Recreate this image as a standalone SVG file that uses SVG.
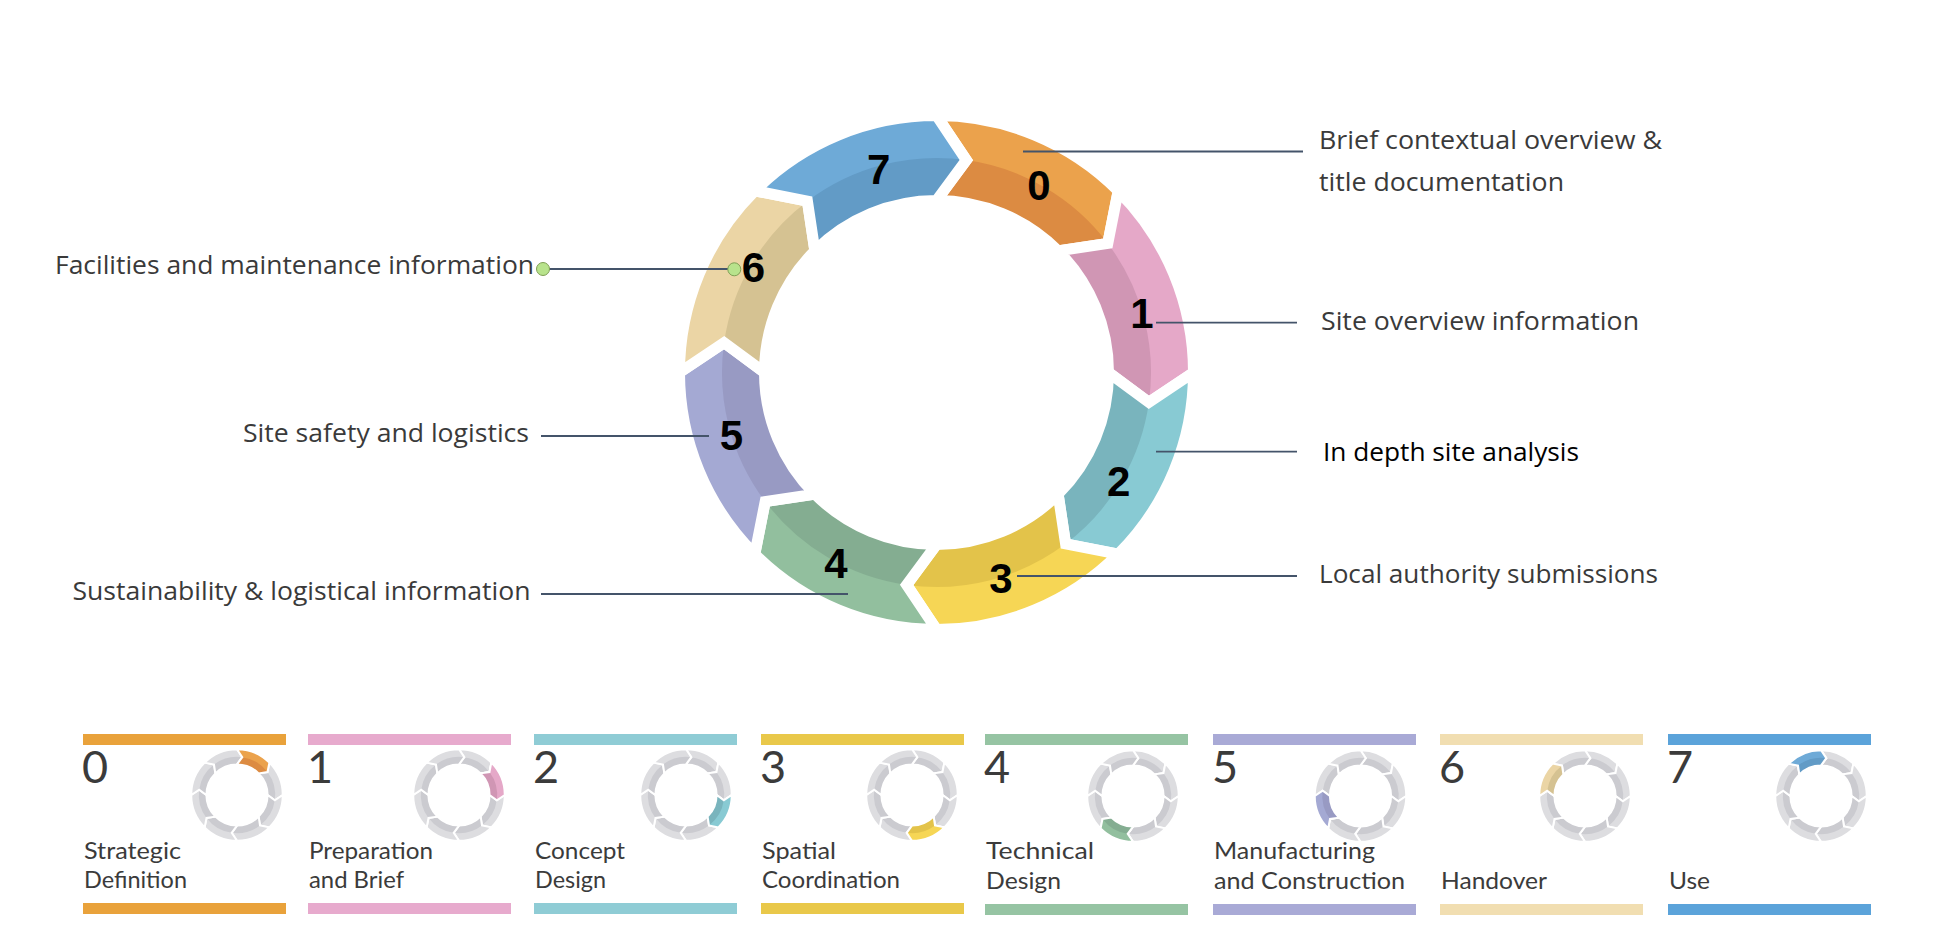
<svg xmlns="http://www.w3.org/2000/svg" xmlns:xlink="http://www.w3.org/1999/xlink" width="1944" height="948" viewBox="0 0 1944 948">
<style>
.gap{fill:none;stroke:#fff;stroke-width:11;stroke-linejoin:miter}
.num{font-family:"Liberation Sans",Arial,sans-serif;font-weight:bold;font-size:42px;fill:#000;text-anchor:middle}
.lbl{font-family:"Open Sans","Noto Sans",sans-serif;font-size:25px;fill:#3a3a3a}
.lead{stroke:#44546A;stroke-width:1.8;fill:none}
.dot{fill:#B8E38C;stroke:#7F9F55;stroke-width:1}
.pnum{font-family:Lato,"Noto Sans",sans-serif;font-size:45px;fill:#3b3b3b}
.ptxt{font-family:Lato,"Noto Sans",sans-serif;font-size:23px;fill:#3b3b3b}
</style>
<defs>
<path id="sf" d="M0,-257 L29.85,-212.41 L0,-172 A172,172 0 0 1 121.62,-121.62 L171.31,-129.09 L181.73,-181.73 A257,257 0 0 0 0,-257 Z"/>
<path id="sb" d="M0,-172 A172,172 0 0 1 121.62,-121.62 L171.31,-129.09 A214.5,214.5 0 0 0 29.85,-212.41 Z"/>
<g id="graySeg">
<use href="#sf" fill="#DDDDE0"/>
<use href="#sb" fill="#CBCBD0"/>
<use href="#sf" class="gap"/>
</g>
<g id="ico">
<use href="#graySeg"/>
<use href="#graySeg" transform="rotate(45)"/>
<use href="#graySeg" transform="rotate(90)"/>
<use href="#graySeg" transform="rotate(135)"/>
<use href="#graySeg" transform="rotate(180)"/>
<use href="#graySeg" transform="rotate(225)"/>
<use href="#graySeg" transform="rotate(270)"/>
<use href="#graySeg" transform="rotate(315)"/>
</g>
</defs>
<rect width="1944" height="948" fill="#fff"/>

<!-- main ring -->
<g id="stage-0">
<g transform="translate(936.5,372.5) rotate(0)"><use href="#sf" fill="#EBA24C"/><use href="#sb" fill="#DC8B42"/><use href="#sf" class="gap"/></g>
<text class="num" x="1039" y="199.6">0</text>
</g>
<g id="stage-1">
<g transform="translate(936.5,372.5) rotate(45)"><use href="#sf" fill="#E5A8C8"/><use href="#sb" fill="#D096B4"/><use href="#sf" class="gap"/></g>
<text class="num" x="1142" y="328">1</text>
</g>
<g id="stage-2">
<g transform="translate(936.5,372.5) rotate(90)"><use href="#sf" fill="#88CAD3"/><use href="#sb" fill="#79B4BD"/><use href="#sf" class="gap"/></g>
<text class="num" x="1118.6" y="496">2</text>
</g>
<g id="stage-3">
<g transform="translate(936.5,372.5) rotate(135)"><use href="#sf" fill="#F6D655"/><use href="#sb" fill="#E3C34A"/><use href="#sf" class="gap"/></g>
<text class="num" x="1001" y="592.5">3</text>
</g>
<g id="stage-4">
<g transform="translate(936.5,372.5) rotate(180)"><use href="#sf" fill="#92BF9E"/><use href="#sb" fill="#84AD91"/><use href="#sf" class="gap"/></g>
<text class="num" x="836" y="578">4</text>
</g>
<g id="stage-5">
<g transform="translate(936.5,372.5) rotate(225)"><use href="#sf" fill="#A4A9D3"/><use href="#sb" fill="#989AC3"/><use href="#sf" class="gap"/></g>
<text class="num" x="731.4" y="449.6">5</text>
</g>
<g id="stage-6">
<g transform="translate(936.5,372.5) rotate(270)"><use href="#sf" fill="#EBD5A5"/><use href="#sb" fill="#D5C292"/><use href="#sf" class="gap"/></g>
<text class="num" x="753.5" y="282">6</text>
</g>
<g id="stage-7">
<g transform="translate(936.5,372.5) rotate(315)"><use href="#sf" fill="#6EAAD7"/><use href="#sb" fill="#629BC6"/><use href="#sf" class="gap"/></g>
<text class="num" x="878.6" y="184.3">7</text>
</g>

<!-- labels -->
<g id="label-0"><text class="lbl" x="1319" y="149" textLength="343" lengthAdjust="spacingAndGlyphs">Brief contextual overview &amp;</text><text class="lbl" x="1319" y="190.5" textLength="245" lengthAdjust="spacingAndGlyphs">title documentation</text></g>
<g id="label-1"><text class="lbl" x="1321" y="330" textLength="318" lengthAdjust="spacingAndGlyphs">Site overview information</text></g>
<g id="label-2"><text class="lbl" x="1323" y="460.5" textLength="256" lengthAdjust="spacingAndGlyphs" style="fill:#000">In depth site analysis</text></g>
<g id="label-3"><text class="lbl" x="1319" y="582.5" textLength="339" lengthAdjust="spacingAndGlyphs">Local authority submissions</text></g>
<g id="label-4"><text class="lbl" x="72.5" y="600" textLength="458" lengthAdjust="spacingAndGlyphs">Sustainability &amp; logistical information</text></g>
<g id="label-5"><text class="lbl" x="243" y="441.5" textLength="286" lengthAdjust="spacingAndGlyphs">Site safety and logistics</text></g>
<g id="label-6"><text class="lbl" x="55" y="273.5" textLength="479" lengthAdjust="spacingAndGlyphs">Facilities and maintenance information</text></g>

<!-- connectors -->
<g id="connectors">
<line class="lead" x1="1023" y1="151.5" x2="1303" y2="151.5"/>
<line class="lead" x1="1156" y1="322.7" x2="1297" y2="322.7"/>
<line class="lead" x1="1156" y1="451.7" x2="1297" y2="451.7"/>
<line class="lead" x1="1017" y1="576" x2="1297" y2="576"/>
<line class="lead" x1="541" y1="594" x2="848" y2="594"/>
<line class="lead" x1="541" y1="436" x2="709" y2="436"/>
<line class="lead" x1="543" y1="269" x2="734" y2="269"/>
<circle class="dot" cx="543" cy="269" r="6.5"/>
<circle class="dot" cx="734.3" cy="269.3" r="6.5"/>
</g>

<!-- bottom stage legend -->
<g id="panel-0">
<rect x="83" y="734" width="203" height="11" fill="#E9A23B"/>
<rect x="83" y="903" width="203" height="11" fill="#E9A23B"/>
<text class="pnum" x="82" y="783">0</text>
<g transform="translate(237,795) scale(0.178)"><use href="#ico"/><g transform="rotate(0)"><use href="#sf" fill="#EBA24C"/><use href="#sb" fill="#DC8B42"/><use href="#sf" class="gap"/></g></g>
<text class="ptxt" x="84" y="858.5" textLength="97" lengthAdjust="spacingAndGlyphs">Strategic</text>
<text class="ptxt" x="84" y="887.5" textLength="103" lengthAdjust="spacingAndGlyphs">Definition</text>
</g>
<g id="panel-1">
<rect x="308" y="734" width="203" height="11" fill="#E7AACD"/>
<rect x="308" y="903" width="203" height="11" fill="#E7AACD"/>
<text class="pnum" x="307" y="783">1</text>
<g transform="translate(459,795) scale(0.178)"><use href="#ico"/><g transform="rotate(45)"><use href="#sf" fill="#E5A8C8"/><use href="#sb" fill="#D096B4"/><use href="#sf" class="gap"/></g></g>
<text class="ptxt" x="309" y="858.5" textLength="124" lengthAdjust="spacingAndGlyphs">Preparation</text>
<text class="ptxt" x="309" y="887.5" textLength="95" lengthAdjust="spacingAndGlyphs">and Brief</text>
</g>
<g id="panel-2">
<rect x="534" y="734" width="203" height="11" fill="#8FCCD5"/>
<rect x="534" y="903" width="203" height="11" fill="#8FCCD5"/>
<text class="pnum" x="533" y="783">2</text>
<g transform="translate(686,795) scale(0.178)"><use href="#ico"/><g transform="rotate(90)"><use href="#sf" fill="#88CAD3"/><use href="#sb" fill="#79B4BD"/><use href="#sf" class="gap"/></g></g>
<text class="ptxt" x="535" y="858.5" textLength="90" lengthAdjust="spacingAndGlyphs">Concept</text>
<text class="ptxt" x="535" y="887.5" textLength="71" lengthAdjust="spacingAndGlyphs">Design</text>
</g>
<g id="panel-3">
<rect x="761" y="734" width="203" height="11" fill="#E9C84A"/>
<rect x="761" y="903" width="203" height="11" fill="#E9C84A"/>
<text class="pnum" x="760" y="783">3</text>
<g transform="translate(912,795) scale(0.178)"><use href="#ico"/><g transform="rotate(135)"><use href="#sf" fill="#F6D655"/><use href="#sb" fill="#E3C34A"/><use href="#sf" class="gap"/></g></g>
<text class="ptxt" x="762" y="858.5" textLength="74" lengthAdjust="spacingAndGlyphs">Spatial</text>
<text class="ptxt" x="762" y="887.5" textLength="138" lengthAdjust="spacingAndGlyphs">Coordination</text>
</g>
<g id="panel-4">
<rect x="985" y="734" width="203" height="11" fill="#96C4A3"/>
<rect x="985" y="904" width="203" height="11" fill="#96C4A3"/>
<text class="pnum" x="984" y="783">4</text>
<g transform="translate(1133,796) scale(0.178)"><use href="#ico"/><g transform="rotate(180)"><use href="#sf" fill="#92BF9E"/><use href="#sb" fill="#84AD91"/><use href="#sf" class="gap"/></g></g>
<text class="ptxt" x="986" y="859" textLength="108" lengthAdjust="spacingAndGlyphs">Technical</text>
<text class="ptxt" x="986" y="888.5" textLength="75" lengthAdjust="spacingAndGlyphs">Design</text>
</g>
<g id="panel-5">
<rect x="1213" y="734" width="203" height="11" fill="#A9AAD6"/>
<rect x="1213" y="904" width="203" height="11" fill="#A9AAD6"/>
<text class="pnum" x="1212" y="783">5</text>
<g transform="translate(1360.5,796) scale(0.178)"><use href="#ico"/><g transform="rotate(225)"><use href="#sf" fill="#A4A9D3"/><use href="#sb" fill="#989AC3"/><use href="#sf" class="gap"/></g></g>
<text class="ptxt" x="1214" y="859" textLength="161" lengthAdjust="spacingAndGlyphs">Manufacturing</text>
<text class="ptxt" x="1214" y="888.5" textLength="191" lengthAdjust="spacingAndGlyphs">and Construction</text>
</g>
<g id="panel-6">
<rect x="1440" y="734" width="203" height="11" fill="#F1DEB1"/>
<rect x="1440" y="904" width="203" height="11" fill="#F1DEB1"/>
<text class="pnum" x="1439" y="783">6</text>
<g transform="translate(1585,796) scale(0.178)"><use href="#ico"/><g transform="rotate(270)"><use href="#sf" fill="#EBD5A5"/><use href="#sb" fill="#D5C292"/><use href="#sf" class="gap"/></g></g>
<text class="ptxt" x="1441" y="888.5" textLength="106" lengthAdjust="spacingAndGlyphs">Handover</text>
</g>
<g id="panel-7">
<rect x="1668" y="734" width="203" height="11" fill="#5BA3DA"/>
<rect x="1668" y="904" width="203" height="11" fill="#5BA3DA"/>
<text class="pnum" x="1667" y="783">7</text>
<g transform="translate(1821,796) scale(0.178)"><use href="#ico"/><g transform="rotate(315)"><use href="#sf" fill="#6EAAD7"/><use href="#sb" fill="#629BC6"/><use href="#sf" class="gap"/></g></g>
<text class="ptxt" x="1669" y="888.5" textLength="41" lengthAdjust="spacingAndGlyphs">Use</text>
</g>
</svg>
